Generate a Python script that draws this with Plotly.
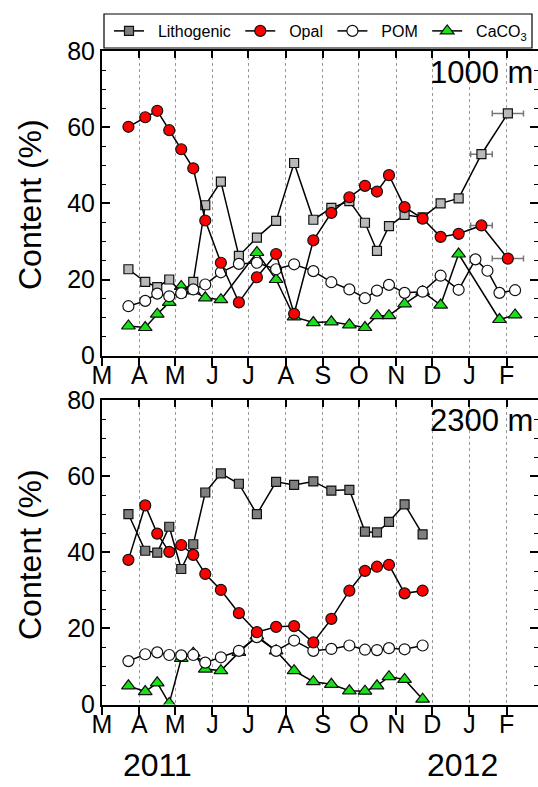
import plotly.graph_objects as go
import pandas as pd

# ---------------- data ----------------
START = "2011-03-01"
month_starts = pd.date_range("2011-03-01", periods=12, freq="MS")
month_labels = ["M", "A", "M", "J", "J", "A", "S", "O", "N", "D", "J", "F"]

dates_1000 = ["2011-03-23", "2011-04-06", "2011-04-16", "2011-04-26", "2011-05-06",
              "2011-05-16", "2011-05-26", "2011-06-08", "2011-06-23", "2011-07-08",
              "2011-07-24", "2011-08-08", "2011-08-24", "2011-09-08", "2011-09-23",
              "2011-10-06", "2011-10-16", "2011-10-26", "2011-11-08", "2011-11-23",
              "2011-12-08", "2011-12-23"]
dates_1000_composite = ["2012-01-11", "2012-02-02"]
composite_halfwidth_days = [9, 13]
dates_1000_pom_extra = ["2012-01-06", "2012-01-16", "2012-01-26", "2012-02-08"]
dates_1000_caco3_extra = ["2012-01-26", "2012-02-08"]
dates_2300 = dates_1000[:20]

lith_1000 = [22.7, 19.4, 18.0, 20.0, 16.6, 19.4, 39.5, 45.7, 26.2, 31.0, 35.4, 50.6,
             35.7, 38.8, 40.6, 34.9, 27.5, 34.0, 37.0, 36.3, 40.0, 41.3, 52.9, 63.6]
opal_1000 = [60.1, 62.6, 64.3, 59.2, 54.2, 49.2, 35.5, 24.4, 14.0, 20.6, 26.7, 11.0,
             30.3, 37.5, 41.6, 44.6, 43.1, 47.4, 39.0, 36.0, 31.2, 32.0, 34.2, 25.5]
pom_1000 = [13.0, 14.4, 16.3, 15.6, 16.4, 17.4, 18.7, 21.9, 24.1, 24.4, 22.7, 24.0,
            22.2, 19.3, 17.4, 15.1, 17.1, 18.6, 16.5, 16.8, 21.0, 17.3, 25.3, 22.3,
            16.5, 17.2]
caco3_1000 = [7.8, 7.4, 10.9, 14.0, 18.2, 17.0, 15.2, 14.7, None, 27.1, 20.0, 10.2,
              8.7, 8.9, 8.1, 7.4, 10.5, 10.5, 13.6, 16.8, 13.3, 26.7, 9.5, 10.7]

lith_2300 = [50.0, 40.4, 39.9, 46.7, 35.6, 42.1, 55.7, 60.7, 58.0, 50.0, 58.5, 57.7,
             58.6, 56.2, 56.4, 45.4, 45.2, 48.0, 52.6, 44.7]
opal_2300 = [38.0, 52.3, 44.9, 40.1, 41.9, 39.3, 34.3, 30.1, 24.0, 19.0, 20.4, 20.6,
             16.3, 22.5, 29.9, 35.1, 36.2, 36.7, 29.2, 29.9]
pom_2300 = [11.4, 13.2, 13.7, 13.0, 12.9, 13.0, 11.0, 12.4, 14.1, 17.7, 14.1, 16.8,
            14.1, 14.6, 15.5, 14.4, 14.3, 14.8, 14.5, 15.5]
caco3_2300 = [4.9, 3.4, 5.7, 0.3, 12.1, 13.5, 9.3, 8.9, 13.7, 18.0, 14.1, 8.9,
              6.0, 5.3, 3.6, 3.5, 4.9, 7.3, 6.6, 1.4]

panel_labels = ["1000 m", "2300 m"]
year_labels = ["2011", "2012"]
year_label_dates = ["2011-04-16", "2011-12-26"]
y_title = "Content (%)"
legend_names = {"lith": "Lithogenic", "opal": "Opal", "pom": "POM",
                "caco3": "CaCO<sub>3</sub>"}


def days(ds):
    t0 = pd.Timestamp(START)
    return [(pd.Timestamp(d) - t0).days for d in ds]


# ---------------- style ----------------
FONT = "Liberation Sans, Arial, sans-serif"
W, H = 538, 787
L = 102
PW = W - L
X_END = 363.1
TOP = (51, 355.7)
BOT = (400, 704.5)
NB = "\u00a0"


def dom(p):
    return [1 - p[1] / H, 1 - p[0] / H]


def px_x(p):
    return (p - L) / PW


def px_y(p):
    return 1 - p / H


LINE = dict(color="black", width=1.5)
MK_EDGE = dict(color="#111111", width=1.2)
styles = {
    "lith_top": dict(symbol="square", size=9, color="#b9b9b9", line=MK_EDGE),
    "lith_bot": dict(symbol="square", size=9, color="#7f7f7f", line=MK_EDGE),
    "opal": dict(symbol="circle", size=11, color="#ff0000", line=MK_EDGE),
    "pom": dict(symbol="circle", size=11, color="#ffffff", line=MK_EDGE),
    "caco3": dict(symbol="triangle-up", size=12, color="#19e019", line=MK_EDGE),
}
ERR = dict(type="data", color="#777777", thickness=1.5, width=3)

fig = go.Figure()


def add(x, y, key, mk, xa, ya, legend, rank, err=None):
    kw = {}
    if err is not None:
        kw["error_x"] = dict(array=err, **ERR)
    fig.add_trace(go.Scatter(x=x, y=y, name=NB * 2 + legend_names[key] + NB,
                             mode="lines+markers",
                             line=LINE, marker=mk, xaxis=xa, yaxis=ya,
                             showlegend=legend, legendrank=rank,
                             connectgaps=True, **kw))


err_full = [0] * len(dates_1000) + composite_halfwidth_days

# top panel (1000 m)
add(days(dates_1000 + dates_1000_caco3_extra), caco3_1000, "caco3",
    styles["caco3"], "x", "y", False, 4)
add(days(dates_1000 + dates_1000_composite), lith_1000, "lith",
    styles["lith_top"], "x", "y", False, 1, err_full)
add(days(dates_1000 + dates_1000_pom_extra), pom_1000, "pom",
    styles["pom"], "x", "y", False, 3)
add(days(dates_1000 + dates_1000_composite), opal_1000, "opal",
    styles["opal"], "x", "y", False, 2, err_full)

# bottom panel (2300 m)
add(days(dates_2300), caco3_2300, "caco3", styles["caco3"], "x2", "y2", True, 4)
add(days(dates_2300), lith_2300, "lith", styles["lith_bot"], "x2", "y2", True, 1)
add(days(dates_2300), pom_2300, "pom", styles["pom"], "x2", "y2", True, 3)
add(days(dates_2300), opal_2300, "opal", styles["opal"], "x2", "y2", True, 2)

tickvals_x = days(month_starts)
TICKFONT = dict(family=FONT, size=25, color="black")

xbase = dict(range=[0, X_END], tickvals=tickvals_x, ticktext=month_labels,
             ticks="outside", ticklen=8, tickwidth=1.5, tickcolor="black",
             ticklabelstandoff=-12,
             showline=True, linewidth=2, linecolor="black",
             showgrid=True, gridcolor="#9a9a9a", griddash="dot", gridwidth=1,
             zeroline=False, tickfont=TICKFONT, automargin=False)
xtop = dict(range=[0, X_END], tickvals=tickvals_x, ticks="inside", ticklen=7,
            tickwidth=1.5, tickcolor="black", showticklabels=False,
            showline=True, linewidth=2, linecolor="black", showgrid=False,
            zeroline=False, side="top", automargin=False)
ybase = dict(range=[0, 80], tickvals=[0, 20, 40, 60, 80], ticks="inside", ticklen=8,
             tickwidth=1.5, tickcolor="black",
             minor=dict(dtick=5, ticks="inside", ticklen=4, tickwidth=1.2,
                        tickcolor="black", showgrid=False),
             showline=True, linewidth=2, linecolor="black", showgrid=False,
             zeroline=False, tickfont=TICKFONT, automargin=False)
yright = dict(range=[0, 80], tickvals=[0, 20, 40, 60, 80], ticks="inside", ticklen=8,
              tickwidth=1.5, tickcolor="black",
              minor=dict(dtick=5, ticks="inside", ticklen=4, tickwidth=1.2,
                         tickcolor="black", showgrid=False),
              showticklabels=False, showline=False, showgrid=False, zeroline=False,
              side="right", automargin=False)

fig.update_layout(
    width=W, height=H,
    margin=dict(l=L, r=0, t=0, b=0, pad=0, autoexpand=False),
    paper_bgcolor="white", plot_bgcolor="white",
    font=dict(family=FONT, color="black"),
    xaxis=dict(domain=[0, 1], anchor="y", **xbase),
    yaxis=dict(domain=dom(TOP), anchor="x", **ybase),
    xaxis2=dict(domain=[0, 1], anchor="y2", **xbase),
    yaxis2=dict(domain=dom(BOT), anchor="x2", **ybase),
    xaxis3=dict(overlaying="x", anchor="y", **xtop),
    xaxis4=dict(overlaying="x2", anchor="y2", **xtop),
    yaxis3=dict(overlaying="y", anchor="x", **yright),
    yaxis4=dict(overlaying="y2", anchor="x2", **yright),
    legend=dict(orientation="h", x=px_x(109), y=px_y(31), xanchor="left",
                yanchor="middle", borderwidth=0, bgcolor="rgba(0,0,0,0)",
                font=dict(family=FONT, size=16, color="black"),
                traceorder="normal", itemwidth=30),
    showlegend=True,
    shapes=[dict(type="rect", xref="paper", yref="paper",
                 x0=px_x(104), x1=px_x(532), y0=px_y(48), y1=px_y(14),
                 line=dict(color="black", width=1.2), fillcolor="white",
                 layer="below")],
)

# ghost traces to activate overlay axes
for xa, ya in [("x3", "y"), ("x4", "y2"), ("x", "y3"), ("x2", "y4")]:
    fig.add_trace(go.Scatter(x=[None], y=[None], xaxis=xa, yaxis=ya,
                             showlegend=False, hoverinfo="skip"))

ann = []
# panel labels
for lab, yp in zip(panel_labels, [72, 421]):
    ann.append(dict(text=lab, xref="paper", yref="paper", x=px_x(428),
                    y=px_y(yp), xanchor="left", yanchor="middle", showarrow=False,
                    font=dict(family=FONT, size=31, color="black")))
# y titles
for yp in [205, 555]:
    ann.append(dict(text=y_title, xref="paper", yref="paper", x=px_x(30),
                    y=px_y(yp), xanchor="center", yanchor="middle", textangle=-90,
                    showarrow=False, font=dict(family=FONT, size=32, color="black")))
# year labels
for lab, d in zip(year_labels, year_label_dates):
    ann.append(dict(text=lab, xref="x2", yref="paper", x=days([d])[0],
                    y=px_y(765), xanchor="center", yanchor="middle", showarrow=False,
                    font=dict(family=FONT, size=32, color="black")))
fig.update_layout(annotations=ann)

fig.write_html("out.html")
